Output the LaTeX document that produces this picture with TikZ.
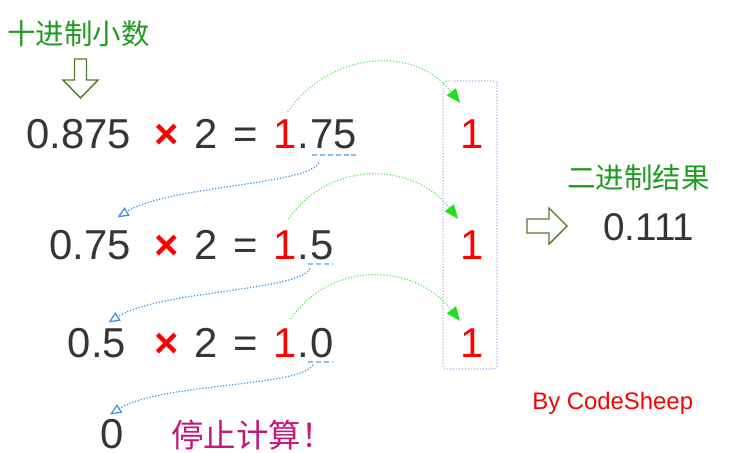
\documentclass[tikz,border=0pt]{standalone}
\usepackage{fontspec}
\setmainfont{Liberation Sans}
\newfontfamily\cjkfont{Noto Sans CJK SC}
\usepackage{tikz}
\usetikzlibrary{positioning, arrows.meta}

\definecolor{numgray}{HTML}{353535}
\definecolor{titlegreen}{HTML}{1E9B1E}
\definecolor{arrowolive}{HTML}{557A2C}
\definecolor{stopred}{HTML}{C2187A}
\definecolor{carrygreen}{HTML}{66E866}
\definecolor{tipgreen}{HTML}{22DD22}
\definecolor{backblue}{HTML}{3D94E0}
\definecolor{ulblue}{HTML}{8CC0F0}
\definecolor{boxpurple}{HTML}{C9A3F0}

\tikzset{
  num/.style={inner sep=0pt, text=numgray, font=\fontsize{23.8}{28}\selectfont},
  times/.style={num, text=red, font=\fontsize{23.8}{28}\selectfont\bfseries},
  bit/.style={num, text=red},
  cntitle/.style={inner sep=0pt, text=titlegreen, font=\cjkfont\fontsize{16.2}{18}\selectfont},
  hollow/.style={draw=arrowolive, line width=0.8pt, line join=miter},
  carry/.style={draw=carrygreen, densely dotted, line width=0.7pt,
    -{Triangle[length=8pt, width=6.5pt, color=tipgreen]}},
  back/.style={draw=backblue, densely dotted, line width=0.7pt,
    -{Triangle[open, length=6.5pt, width=5.5pt]}},
  uline/.style={draw=ulblue, line width=0.9pt, dash pattern=on 3pt off 1.5pt},
  bitbox/.style={draw=boxpurple, densely dotted, line width=0.7pt, rounded corners=2pt}
}

\begin{document}
\begin{tikzpicture}[x=0.02cm, y=-0.02cm, node distance=0.3cm]
\useasboundingbox (0,0) rectangle (737,453);

% Titel und Pfeil
\node[cntitle, anchor=west] (dec) at (7,34) {十进制小数};
\coordinate (downtip) at (80.5,98);
\draw[hollow] (downtip) -- ++(-17.5,-18) -- ++(11.5,0) -- ++(0,-21) -- ++(12,0) -- ++(0,21) -- ++(11.5,0) -- cycle;

% Zeile 1
\node[times, anchor=base] (x1) at (167,148) {×};
\node[num, base left=0.46cm of x1] (a1) {0.875};
\node[num, base right=of x1] (t1) {2};
\node[num, base right=of t1] (e1) {=};
\node[bit, base right=of e1] (o1) {1};
\node[num, base right=0pt of o1] (d1) {.};
\node[num, base right=0pt of d1] (f1) {75};

% Zeile 2
\node[times, anchor=base] (x2) at (167,259) {×};
\node[num, base left=0.46cm of x2] (a2) {0.75};
\node[num, base right=of x2] (t2) {2};
\node[num, base right=of t2] (e2) {=};
\node[bit, base right=of e2] (o2) {1};
\node[num, base right=0pt of o2] (d2) {.};
\node[num, base right=0pt of d2] (f2) {5};

% Zeile 3
\node[times, anchor=base] (x3) at (167,357) {×};
\node[num, base left=0.56cm of x3] (a3) {0.5};
\node[num, base right=of x3] (t3) {2};
\node[num, base right=of t3] (e3) {=};
\node[bit, base right=of e3] (o3) {1};
\node[num, base right=0pt of o3] (d3) {.};
\node[num, base right=0pt of d3] (f3) {0};

% Ende
\node[num, anchor=base] (z) at (112,448) {0};
\node[inner sep=0pt, text=stopred, font=\cjkfont\fontsize{18.5}{20}\selectfont, anchor=west] (stop) at (171,435) {停止计算！};

% Ergebnis-Bits
\node[bit, anchor=base] (r1) at (472,148) {1};
\node[bit, anchor=base] (r2) at (472,259) {1};
\node[bit, anchor=base] (r3) at (472,357) {1};
\draw[bitbox] (443,81) rectangle (497,369);

% Ergebnis
\node[cntitle, anchor=west] (res) at (567,178) {二进制结果};
\coordinate (righttip) at (567,226);
\draw[hollow] (righttip) -- ++(-18,-18) -- ++(0,11) -- ++(-22,0) -- ++(0,14) -- ++(22,0) -- ++(0,11) -- cycle;
\node[num, font=\fontsize{22}{26}\selectfont, anchor=base west] (bin) at (603,240) {0.111};
\node[inner sep=0pt, text=red, font=\fontsize{13.6}{16}\selectfont, anchor=base west] (by) at (532,409) {By CodeSheep};

% Unterstreichungen
\draw[uline] ([shift={(2,6)}]f1.south west) -- ([shift={(-1,6)}]f1.south east);
\draw[uline] ([shift={(-2,4)}]f2.south west) -- ([shift={(-1,4)}]f2.south east);
\draw[uline] ([shift={(-2,4)}]f3.south west) -- ([shift={(-1,4)}]f3.south east);

% Uebertraege
\draw[carry] ([shift={(2,-7)}]o1.north) to[out=55, in=128, looseness=1.1] ([shift={(0,-16)}]r1.north west);
\draw[carry] ([shift={(3,-11)}]o2.north) to[out=55, in=128, looseness=1.1] ([shift={(-2,-11)}]r2.north west);
\draw[carry] ([shift={(5,-9)}]o3.north) to[out=55, in=128, looseness=1.1] ([shift={(0,-7)}]r3.north west);

% Rest zurueck
\draw[back] ([shift={(9,14)}]f1.south west) to[out=-117, in=32, out distance=0.5cm, in distance=1.2cm] ([shift={(-14,-12)}]a2.north east);
\draw[back] ([shift={(0,9)}]f2.south west) to[out=-117, in=32, out distance=0.5cm, in distance=1.2cm] ([shift={(-18,-5)}]a3.north east);
\draw[back] ([shift={(3,7)}]f3.south west) to[out=-117, in=32, out distance=0.5cm, in distance=1.2cm] ([shift={(-14,-4)}]z.north east);
\end{tikzpicture}
\end{document}
